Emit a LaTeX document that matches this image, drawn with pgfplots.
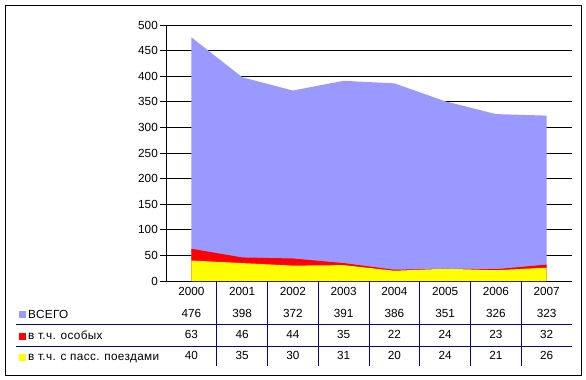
\documentclass[border=0pt]{standalone}
\usepackage{pgfplots}
\pgfplotsset{compat=1.18}
\usepackage{fontspec}
\setmainfont{Liberation Sans}
\newfontfamily\legfont[LetterSpace=3]{Liberation Sans}
\definecolor{cTot}{HTML}{9999FF}
\definecolor{cRed}{HTML}{FF0000}
\definecolor{cYel}{HTML}{FFFF00}
\definecolor{cTab}{HTML}{000099}
\begin{document}
\fontsize{11.8}{13}\selectfont
\begin{tikzpicture}
\useasboundingbox (0bp,0bp) rectangle (586bp,-380bp);
\draw[line width=0.8bp] (5bp,-5bp) rectangle (581bp,-375bp);
\begin{axis}[at={(166bp,-281bp)}, anchor=south west, scale only axis,
  width=406bp, height=256bp,
  xmin=-0.5, xmax=7.5, ymin=0, ymax=500, ytick={0,50,...,500}, xtick=\empty,
  axis x line=bottom, axis y line=left,
  axis line style={-, black, line width=0.8bp},
  ymajorgrids, grid style={black, line width=0.8bp},
  tick align=outside, major tick length=6bp,
  tick style={black, line width=0.8bp},
  yticklabel style={font=\fontsize{11.8}{13}\selectfont, inner sep=1bp, xshift=-1bp},
  /pgf/number format/assume math mode=true, clip=false]
\addplot[fill=cTot, draw=none] coordinates {(0,476)(1,398)(2,372)(3,391)(4,386)(5,351)(6,326)(7,323)} \closedcycle;
\addplot[fill=cRed, draw=none] coordinates {(0,63)(1,46)(2,44)(3,35)(4,22)(5,24)(6,23)(7,32)} \closedcycle;
\addplot[fill=cYel, draw=none] coordinates {(0,40)(1,35)(2,30)(3,31)(4,20)(5,24)(6,21)(7,26)} \closedcycle;
\end{axis}
\begin{scope}[x=1bp,y=1bp]
\foreach \k in {1,...,7} \draw[cTab, line width=0.8bp] ({166+\k*50.75},-281) -- ({166+\k*50.75},-366);
\draw[cTab, line width=0.8bp] (16,-324) -- (572,-324);
\draw[cTab, line width=0.8bp] (16,-346) -- (572,-346);
\foreach \v [count=\i from 0] in {2000,2001,2002,2003,2004,2005,2006,2007}
  \node[anchor=base, inner sep=0pt] at ({166+(\i+0.5)*50.75},-295) {\v};
\foreach \v [count=\i from 0] in {476,398,372,391,386,351,326,323}
  \node[anchor=base, inner sep=0pt] at ({166+(\i+0.5)*50.75},-317) {\v};
\foreach \v [count=\i from 0] in {63,46,44,35,22,24,23,32}
  \node[anchor=base, inner sep=0pt] at ({166+(\i+0.5)*50.75},-338) {\v};
\foreach \v [count=\i from 0] in {40,35,30,31,20,24,21,26}
  \node[anchor=base, inner sep=0pt] at ({166+(\i+0.5)*50.75},-359) {\v};
\fill[cTot] (19,-311) rectangle (26,-318);
\fill[cRed] (19,-333) rectangle (26,-340);
\fill[cYel] (19,-354) rectangle (26,-361);
\node[anchor=base west, inner sep=0pt, font=\legfont\fontsize{11.8}{13}\selectfont] at (28,-318) {ВСЕГО};
\node[anchor=base west, inner sep=0pt, font=\legfont\fontsize{11.8}{13}\selectfont] at (28,-339) {в т.ч. особых};
\node[anchor=base west, inner sep=0pt, font=\legfont\fontsize{11.8}{13}\selectfont] at (28,-360) {в т.ч. с пасс. поездами};
\end{scope}
\end{tikzpicture}
\end{document}
